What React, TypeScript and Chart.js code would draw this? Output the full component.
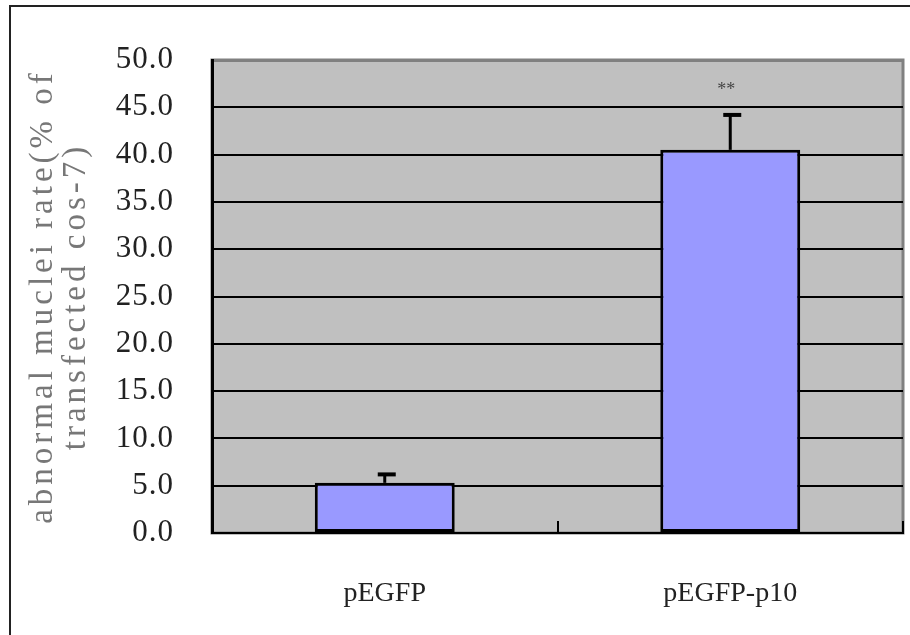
import React, { useEffect, useRef } from "react";
import { Chart, registerables } from "chart.js";

Chart.register(...registerables);

const categories = ["pEGFP", "pEGFP-p10"];
const meanValues = [5.3, 40.5];
const errorValues = [1.0, 3.8];
const annotations = ["", "**"];
const yTickMin = 0;
const yTickMax = 50;
const yTickStep = 5;
const yTitle = ["abnormal muclei rate(% of", "transfected cos-7)"];

const SERIF = "'Liberation Serif', 'DejaVu Serif', serif";

const plotBgPlugin = {
  id: "plotBg",
  beforeDraw(chart: any) {
    const { ctx, chartArea } = chart;
    ctx.save();
    ctx.fillStyle = "#c0c0c0";
    ctx.fillRect(chartArea.left, chartArea.top, chartArea.right - chartArea.left, chartArea.bottom - chartArea.top);
    ctx.strokeStyle = "#808080";
    ctx.lineWidth = 3;
    ctx.strokeRect(chartArea.left, chartArea.top, chartArea.right - chartArea.left, chartArea.bottom - chartArea.top);
    ctx.restore();
  },
};

// Give the y scale's tick labels and title the wide, even letter spacing of the original
const spacingPlugin = {
  id: "letterSpacing",
  afterLayout(chart: any) {
    const y = chart.scales.y;
    if (!y || y.__spaced) return;
    y.__spaced = true;
    const ctx = chart.ctx;
    const origTitle = y.drawTitle;
    y.drawTitle = function (...args: any[]) {
      const prev = ctx.letterSpacing;
      ctx.letterSpacing = "4px";
      origTitle.apply(this, args);
      ctx.letterSpacing = prev || "0px";
    };
    const origLabels = y.drawLabels;
    y.drawLabels = function (...args: any[]) {
      const prev = ctx.letterSpacing;
      ctx.letterSpacing = "1px";
      origLabels.apply(this, args);
      ctx.letterSpacing = prev || "0px";
    };
  },
};

const errorBarPlugin = {
  id: "errorBars",
  afterDatasetsDraw(chart: any) {
    const { ctx } = chart;
    const meta = chart.getDatasetMeta(0);
    const yScale = chart.scales.y;
    ctx.save();
    meta.data.forEach((bar: any, i: number) => {
      const x = bar.x;
      const yTop = bar.y;
      const yErr = yScale.getPixelForValue(meanValues[i] + errorValues[i]);
      ctx.strokeStyle = "#000";
      ctx.lineWidth = 3;
      ctx.beginPath();
      ctx.moveTo(x, yTop);
      ctx.lineTo(x, yErr);
      ctx.stroke();
      ctx.lineWidth = 4;
      ctx.beginPath();
      ctx.moveTo(x - 7, yErr + 1);
      ctx.lineTo(x + 11, yErr + 1);
      ctx.stroke();
      if (annotations[i]) {
        ctx.fillStyle = "#444";
        ctx.font = "18px " + SERIF;
        ctx.textAlign = "center";
        ctx.textBaseline = "middle";
        ctx.fillText(annotations[i], x - 4, yScale.getPixelForValue(46.8));
      }
    });
    ctx.restore();
  },
};

export default function App() {
  const canvasRef = useRef<HTMLCanvasElement | null>(null);

  useEffect(() => {
    document.body.style.margin = "0";
    const canvas = canvasRef.current;
    if (!canvas) return;
    const chart = new Chart(canvas, {
      type: "bar",
      data: {
        labels: categories,
        datasets: [
          {
            data: meanValues,
            backgroundColor: "#9999ff",
            borderColor: "#000",
            borderWidth: 3,
            borderSkipped: false,
            barPercentage: 0.405,
            categoryPercentage: 1,
          },
        ],
      },
      options: {
        responsive: false,
        animation: false,
        devicePixelRatio: 1,
        layout: { padding: { top: 60, right: 7, left: 0, bottom: 0 } },
        plugins: {
          legend: { display: false },
          tooltip: { enabled: false },
          title: { display: false },
        },
        scales: {
          x: {
            offset: true,
            afterFit(scale: any) {
              scale.height = 102;
            },
            border: { display: true, color: "#000", width: 2 },
            grid: {
              display: true,
              drawOnChartArea: false,
              drawTicks: true,
              tickLength: -12,
              color: "#000",
              lineWidth: 2,
              offset: true,
            },
            ticks: {
              color: "#222",
              padding: 56,
              font: { family: SERIF, size: 28 },
              maxRotation: 0,
            },
          },
          y: {
            min: yTickMin,
            max: yTickMax,
            afterFit(scale: any) {
              scale.width = 212;
            },
            border: { display: true, color: "#000", width: 3 },
            grid: {
              drawTicks: false,
              color: (c: any) => (c.tick && c.tick.value === yTickMax ? "#808080" : "#000"),
              lineWidth: (c: any) => (c.tick && c.tick.value === yTickMax ? 3 : 2),
            },
            ticks: {
              stepSize: yTickStep,
              padding: 38,
              color: "#222",
              font: { family: SERIF, size: 31 },
              callback: (v: any) => Number(v).toFixed(1),
            },
            title: {
              display: true,
              text: yTitle,
              color: "#777",
              font: { family: SERIF, size: 33, lineHeight: 1.0 },
              padding: { top: 27, bottom: 0 },
            },
          },
        },
      },
      plugins: [spacingPlugin, plotBgPlugin, errorBarPlugin],
    });
    return () => chart.destroy();
  }, []);

  return (
    <div style={{ position: "relative", width: 910, height: 635, background: "#fff", overflow: "hidden" }}>
      <canvas ref={canvasRef} width={910} height={635} style={{ display: "block" }} />
      <div
        style={{
          position: "absolute",
          left: 9,
          top: 5,
          width: 960,
          height: 700,
          borderTop: "2px solid #222",
          borderLeft: "2px solid #222",
          pointerEvents: "none",
        }}
      />
    </div>
  );
}
